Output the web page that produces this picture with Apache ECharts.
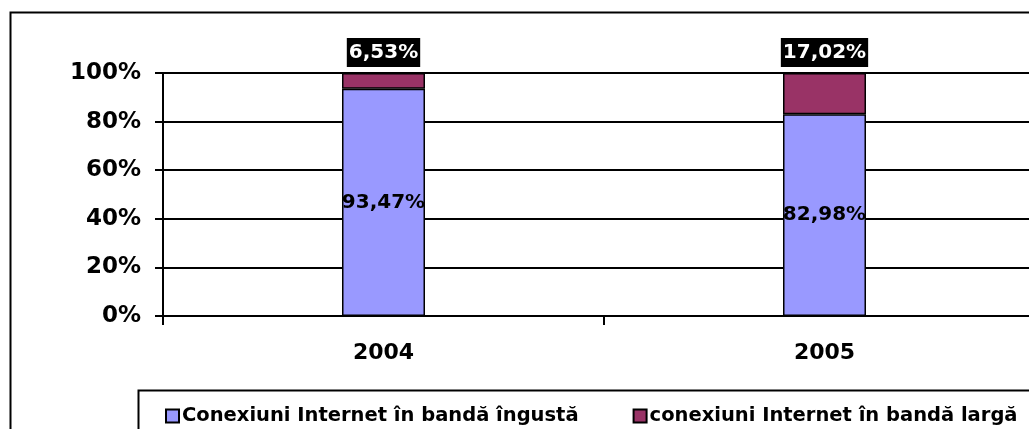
<!DOCTYPE html>
<html>
<head>
<meta charset="utf-8">
<script src="https://cdn.jsdelivr.net/npm/echarts@6/dist/echarts.min.js"></script>
<style>
html,body{margin:0;padding:0;background:#fff;overflow:hidden;width:1029px;height:429px;}
#c{width:1070px;height:429px;}
</style>
</head>
<body>
<div id="c"></div>
<script>
var categories = ['2004', '2005'];
var seriesNames = ['Conexiuni Internet în bandă îngustă', 'conexiuni Internet în bandă largă'];
var narrowBand = [93.47, 82.98];
var broadBand = [6.53, 17.02];
var yTicks = [0, 20, 40, 60, 80, 100];

var FONT = '"DejaVu Sans", Verdana, sans-serif';
function fmt(v) { return v.toFixed(2).replace('.', ',') + '%'; }

var chart = echarts.init(document.getElementById('c'), null, { renderer: 'canvas' });
chart.setOption({
  animation: false,
  backgroundColor: '#fff',
  graphic: [
    { type: 'rect', left: 8, top: 10, shape: { width: 1100, height: 440 },
      style: { fill: 'none', stroke: '#000', lineWidth: 2 }, silent: true, z: 0 },
    { type: 'rect', left: 136, top: 388, shape: { width: 1000, height: 100 },
      style: { fill: 'none', stroke: '#000', lineWidth: 2 }, silent: true, z: 0 }
  ],
  grid: { left: 163, top: 73, width: 882, height: 243, containLabel: false },
  legend: {
    left: 160, top: 401,
    itemWidth: 13, itemHeight: 13, itemGap: 54,
    icon: 'rect',
    textStyle: { fontFamily: FONT, fontWeight: 'bold', fontSize: 19.5, color: '#000', padding: [0, 0, 0, -2] },
    data: seriesNames
  },
  xAxis: {
    type: 'category',
    data: categories,
    axisLine: { lineStyle: { color: '#000', width: 2 } },
    axisTick: { show: true, length: 9, lineStyle: { color: '#000', width: 2 } },
    axisLabel: { fontFamily: FONT, fontWeight: 'bold', fontSize: 22, color: '#000', margin: 26 }
  },
  yAxis: {
    type: 'value',
    min: yTicks[0], max: yTicks[yTicks.length - 1], interval: yTicks[1] - yTicks[0],
    axisLine: { show: true, lineStyle: { color: '#000', width: 2 } },
    axisTick: { show: true, length: 8, lineStyle: { color: '#000', width: 2 } },
    splitLine: { show: true, lineStyle: { color: '#000', width: 2 } },
    axisLabel: { fontFamily: FONT, fontWeight: 'bold', fontSize: 23, color: '#000', margin: 22,
      formatter: '{value}%' }
  },
  series: [
    {
      name: seriesNames[0], type: 'bar', stack: 'a', barWidth: 83,
      data: narrowBand,
      itemStyle: { color: '#9999FF', borderColor: '#000', borderWidth: 1.5 },
      label: { show: true, position: 'inside', color: '#000', fontFamily: FONT, fontWeight: 'bold',
        fontSize: 20, formatter: function (p) { return fmt(p.value); } },
      z: 3
    },
    {
      name: seriesNames[1], type: 'bar', stack: 'a', barWidth: 83,
      data: broadBand,
      itemStyle: { color: '#993366', borderColor: '#000', borderWidth: 1.5 },
      label: { show: true, position: 'top', distance: 6, color: '#fff', backgroundColor: '#000',
        padding: [5, 2, 4, 2], fontFamily: FONT, fontWeight: 'bold', fontSize: 20,
        formatter: function (p) { return fmt(p.value); } },
      z: 3
    }
  ]
});
</script>
</body>
</html>
